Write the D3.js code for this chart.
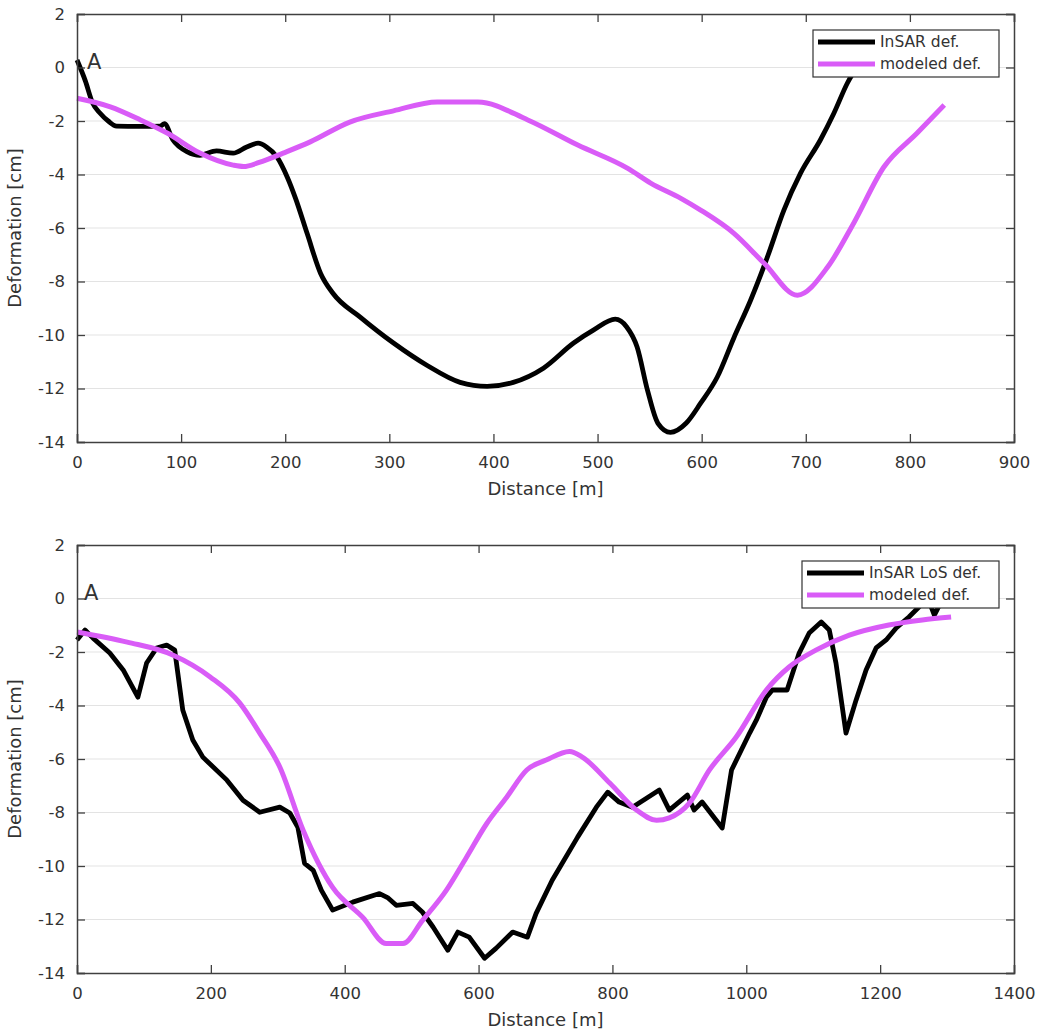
<!DOCTYPE html>
<html>
<head>
<meta charset="utf-8">
<script src="https://cdn.jsdelivr.net/npm/d3@7"></script>
<style>
  body { margin: 0; background: #fff; }
  text { font-family: "DejaVu Sans", sans-serif; fill: #333; }
</style>
</head>
<body>
<div id="chart"></div>
<script>
// ---- data ----
// top profile
var topInsarX = [0, 8, 15, 22, 30, 38, 60, 80, 84, 92, 106, 118, 134, 150, 163, 174, 182, 192, 202, 210, 221, 234, 246, 272, 304, 336, 368, 394, 419, 448, 477, 496, 517, 528, 538, 548, 558, 570, 585, 599, 615, 631, 647, 663, 679, 695, 714, 727, 740, 752];
var topInsarY = [0.28, -0.5, -1.33, -1.7, -2.0, -2.19, -2.2, -2.19, -2.1, -2.7, -3.15, -3.28, -3.12, -3.2, -2.97, -2.83, -2.97, -3.34, -4.1, -4.9, -6.2, -7.7, -8.45, -9.33, -10.3, -11.13, -11.77, -11.92, -11.77, -11.24, -10.3, -9.82, -9.41, -9.7, -10.45, -12.07, -13.3, -13.64, -13.3, -12.55, -11.57, -10.1, -8.7, -7.1, -5.33, -3.95, -2.71, -1.71, -0.58, 0.2];
var topModelX = [0, 32, 61, 87, 118, 150, 160, 175, 198, 224, 262, 304, 346, 385, 433, 481, 529, 551, 580, 599, 631, 660, 692, 721, 746, 775, 807, 833];
var topModelY = [-1.15, -1.47, -1.96, -2.46, -3.2, -3.65, -3.7, -3.55, -3.2, -2.78, -2.04, -1.62, -1.29, -1.29, -1.96, -2.9, -3.77, -4.32, -4.89, -5.33, -6.2, -7.32, -8.51, -7.46, -5.82, -3.72, -2.45, -1.4];

// bottom profile
var botInsarX = [0, 12, 24, 49, 69, 91, 104, 119, 134, 146, 158, 173, 188, 224, 248, 273, 303, 318, 330, 340, 353, 365, 382, 412, 452, 464, 477, 502, 516, 532, 554, 569, 586, 609, 626, 651, 673, 686, 710, 748, 776, 793, 810, 830, 870, 885, 912, 922, 934, 964, 978, 1005, 1015, 1030, 1039, 1061, 1079, 1094, 1112, 1124, 1134, 1149, 1164, 1179, 1194, 1209, 1224, 1243, 1258, 1270, 1281, 1291, 1296];
var botInsarY = [-1.55, -1.18, -1.48, -2.04, -2.67, -3.69, -2.41, -1.85, -1.74, -1.93, -4.17, -5.29, -5.93, -6.79, -7.54, -7.99, -7.8, -8.02, -8.55, -9.9, -10.16, -10.9, -11.65, -11.35, -11.03, -11.18, -11.47, -11.4, -11.72, -12.28, -13.15, -12.47, -12.66, -13.45, -13.08, -12.47, -12.66, -11.77, -10.53, -8.92, -7.8, -7.24, -7.61, -7.8, -7.16, -7.91, -7.35, -7.91, -7.61, -8.58, -6.41, -5.03, -4.55, -3.69, -3.42, -3.42, -2.04, -1.29, -0.88, -1.18, -2.41, -5.03, -3.8, -2.67, -1.85, -1.55, -1.1, -0.69, -0.32, 0.1, -0.62, -0.13, 0.3];
var botModelX = [0, 75, 143, 199, 243, 273, 303, 338, 382, 427, 462, 487, 516, 552, 582, 612, 642, 672, 701, 736, 755, 796, 836, 866, 885, 915, 945, 985, 1030, 1064, 1104, 1154, 1213, 1263, 1306];
var botModelY = [-1.25, -1.63, -2.11, -2.93, -3.9, -5.03, -6.3, -8.67, -10.8, -11.92, -12.9, -12.9, -12.04, -10.9, -9.67, -8.42, -7.43, -6.41, -6.04, -5.72, -5.93, -6.9, -7.91, -8.29, -8.2, -7.65, -6.41, -5.18, -3.42, -2.56, -1.93, -1.37, -0.99, -0.8, -0.69];

// ticks and labels
var yTicks = [2, 0, -2, -4, -6, -8, -10, -12, -14];
var topXTicks = [0, 100, 200, 300, 400, 500, 600, 700, 800, 900];
var botXTicks = [0, 200, 400, 600, 800, 1000, 1200, 1400];
var topLegend = ["InSAR def.", "modeled def."];
var botLegend = ["InSAR LoS def.", "modeled def."];

var insarColor = "#000000",
    modelColor = "#d95cf7";

var svg = d3.select("#chart")
  .append("svg")
    .attr("width", 1040)
    .attr("height", 1036);

svg.append("rect").attr("width", 1040).attr("height", 1036).attr("fill", "#fff");

function zip(xs, ys) {
  return xs.map(function(d, i) { return [d, ys[i]]; });
}

function drawPanel(p) {
  var g = svg.append("g").attr("transform", "translate(" + p.left + "," + p.top + ")");
  var w = p.width, h = p.height;

  var x = d3.scaleLinear().domain(p.xDomain).range([0, w]);
  var y = d3.scaleLinear().domain([-14, 2]).range([h, 0]);

  // horizontal grid
  g.selectAll(".grid")
    .data(yTicks.slice(1, -1))
    .enter()
    .append("line")
      .attr("x1", 0).attr("x2", w)
      .attr("y1", function(d) { return y(d); })
      .attr("y2", function(d) { return y(d); })
      .attr("stroke", "#e3e3e3")
      .attr("stroke-width", 1.2);

  // lines
  var lineSmooth = d3.line()
    .x(function(d) { return x(d[0]); })
    .y(function(d) { return y(d[1]); })
    .curve(d3.curveMonotoneX);
  var lineSharp = d3.line()
    .x(function(d) { return x(d[0]); })
    .y(function(d) { return y(d[1]); });

  g.append("path")
    .datum(zip(p.insarX, p.insarY))
    .attr("d", p.sharpInsar ? lineSharp : lineSmooth)
    .attr("fill", "none")
    .attr("stroke", insarColor)
    .attr("stroke-width", 4.8)
    .attr("stroke-linejoin", "round");

  g.append("path")
    .datum(zip(p.modelX, p.modelY))
    .attr("d", lineSmooth)
    .attr("fill", "none")
    .attr("stroke", modelColor)
    .attr("stroke-width", 5)
    .attr("stroke-linejoin", "round");

  // axes (matlab style box with inward ticks)
  var axColor = "#404040";
  var xb = g.append("g").attr("transform", "translate(0," + h + ")")
    .call(d3.axisBottom(x).tickValues(p.xTicks).tickSize(-8).tickPadding(12).tickFormat(d3.format("d")));
  var xt = g.append("g")
    .call(d3.axisTop(x).tickValues(p.xTicks).tickSize(-8).tickFormat(""));
  var yl = g.append("g")
    .call(d3.axisLeft(y).tickValues(yTicks).tickSize(-8).tickPadding(12).tickFormat(function(d) { return d; }));
  var yr = g.append("g").attr("transform", "translate(" + w + ",0)")
    .call(d3.axisRight(y).tickValues(yTicks).tickSize(-8).tickFormat(""));

  [xb, xt, yl, yr].forEach(function(a) {
    a.select(".domain").attr("stroke", axColor).attr("stroke-width", 1.5);
    a.selectAll(".tick line").attr("stroke", axColor).attr("stroke-width", 1.3);
    a.selectAll(".tick text")
      .attr("font-family", "DejaVu Sans")
      .attr("font-size", "16.5px")
      .attr("fill", "#333");
  });
  xb.selectAll(".tick text").attr("dy", "0.85em");

  // axis labels
  g.append("text")
    .attr("x", w / 2)
    .attr("y", h + 53)
    .attr("text-anchor", "middle")
    .attr("font-size", "18px")
    .text("Distance [m]");
  g.append("text")
    .attr("transform", "translate(" + (-56) + "," + (h / 2) + ") rotate(-90)")
    .attr("text-anchor", "middle")
    .attr("font-size", "18px")
    .text("Deformation [cm]");

  // point label
  g.append("text")
    .attr("x", x(0) + p.labelDx)
    .attr("y", y(0) + 1)
    .attr("font-size", "21px")
    .text("A");

  // legend
  var lg = g.append("g").attr("transform", "translate(" + (w - 15 - p.legendW) + ",16)");
  lg.append("rect")
    .attr("width", p.legendW)
    .attr("height", 47)
    .attr("fill", "#fff")
    .attr("stroke", "#333")
    .attr("stroke-width", 1.2);
  var rows = lg.selectAll(".row")
    .data([{ name: p.legend[0], color: insarColor }, { name: p.legend[1], color: modelColor }])
    .enter()
    .append("g")
      .attr("transform", function(d, i) { return "translate(0," + (12 + i * 22) + ")"; });
  rows.append("line")
    .attr("x1", 5).attr("x2", 62)
    .attr("stroke", function(d) { return d.color; })
    .attr("stroke-width", 5);
  rows.append("text")
    .attr("x", 67)
    .attr("dy", "0.35em")
    .attr("font-size", "15.5px")
    .text(function(d) { return d.name; });
}

drawPanel({
  left: 77, top: 14, width: 937, height: 428,
  xDomain: [0, 900], xTicks: topXTicks,
  insarX: topInsarX, insarY: topInsarY, modelX: topModelX, modelY: topModelY,
  sharpInsar: false, legend: topLegend, legendW: 186, labelDx: 10
});

drawPanel({
  left: 77, top: 545, width: 937, height: 428,
  xDomain: [0, 1400], xTicks: botXTicks,
  insarX: botInsarX, insarY: botInsarY, modelX: botModelX, modelY: botModelY,
  sharpInsar: true, legend: botLegend, legendW: 197, labelDx: 7
});
</script>
</body>
</html>
